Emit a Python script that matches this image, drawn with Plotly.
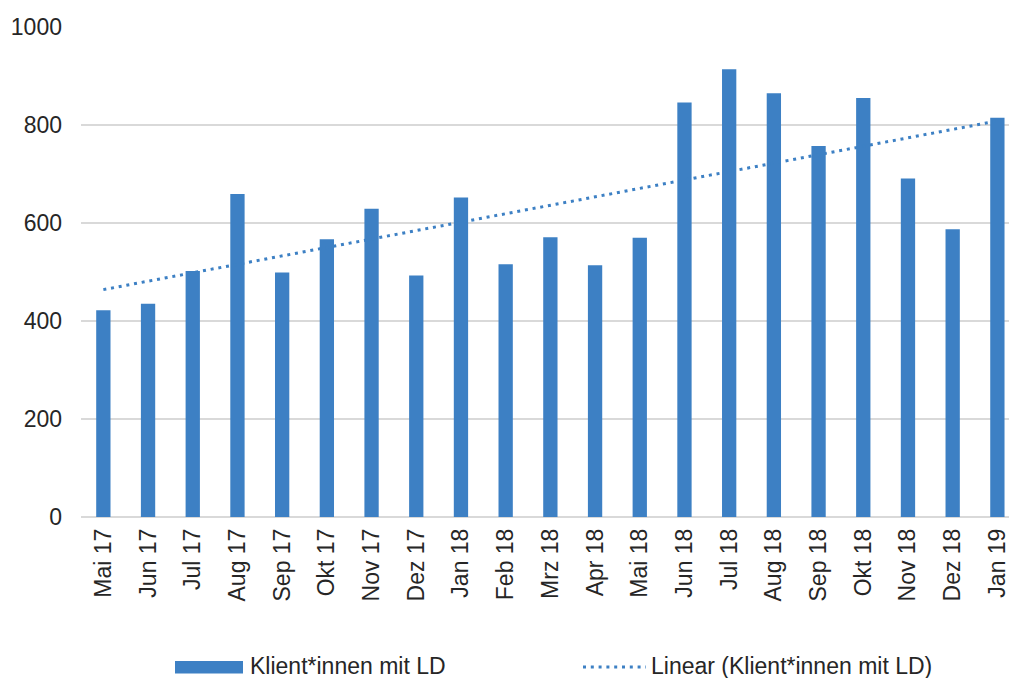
import numpy as np
import plotly.graph_objects as go

months = ["Mai 17", "Jun 17", "Jul 17", "Aug 17", "Sep 17", "Okt 17", "Nov 17",
          "Dez 17", "Jan 18", "Feb 18", "Mrz 18", "Apr 18", "Mai 18", "Jun 18",
          "Jul 18", "Aug 18", "Sep 18", "Okt 18", "Nov 18", "Dez 18", "Jan 19"]
klienten = [422, 435, 502, 659, 499, 567, 629, 493, 652, 516, 571,
            514, 570, 846, 914, 865, 757, 855, 691, 587, 815]
y_ticks = [0, 200, 400, 600, 800, 1000]

series_name = "Klient*innen mit LD"
trend_name = "Linear (Klient*innen mit LD)"

BLUE = "#3d80c4"
TEXT = "#262626"
FONT = "Liberation Sans, Arial, sans-serif"

# Excel-style linear trendline (least squares over category index)
idx = np.arange(len(klienten))
slope, intercept = np.polyfit(idx, klienten, 1)
trend = slope * idx + intercept

fig = go.Figure()
fig.add_trace(go.Bar(
    x=idx, y=klienten, name=series_name, width=0.32,
    marker=dict(color=BLUE, line=dict(width=0)), showlegend=False,
))
fig.add_trace(go.Scatter(
    x=idx, y=trend, name=trend_name, mode="lines",
    line=dict(color=BLUE, width=3, dash="3px,4.8px"), showlegend=False,
))

W, H = 1009, 678
# plot area in window pixels: x 81..1009, y 27..517
L, R, T, B = 81, 0, 27, 678 - 517
pw, ph = W - L - R, H - T - B


def px(xw):
    return (xw - L) / pw


def py(yw):
    return (517 - yw) / ph


# custom legend
leg_y = 666
fig.add_shape(type="rect", xref="paper", yref="paper",
              x0=px(175), x1=px(243), y0=py(673.5), y1=py(661),
              fillcolor=BLUE, line=dict(width=0))
fig.add_annotation(xref="paper", yref="paper", x=px(248), y=py(leg_y),
                   text=series_name, showarrow=False, xanchor="left", yanchor="middle",
                   font=dict(family=FONT, size=23, color=TEXT))
fig.add_shape(type="line", xref="paper", yref="paper",
              x0=px(583), x1=px(646), y0=py(667), y1=py(667),
              line=dict(color=BLUE, width=3, dash="3px,4.8px"))
fig.add_annotation(xref="paper", yref="paper", x=px(649), y=py(leg_y),
                   text=trend_name, showarrow=False, xanchor="left", yanchor="middle",
                   font=dict(family=FONT, size=23, color=TEXT))

fig.update_layout(
    width=W, height=H,
    margin=dict(l=L, r=R, t=T, b=B),
    paper_bgcolor="white", plot_bgcolor="white",
    font=dict(family=FONT, size=23, color=TEXT),
    showlegend=False,
)
fig.update_xaxes(
    tickmode="array", tickvals=idx, ticktext=months,
    tickangle=-90, range=[-0.5, 20.26],
    showgrid=False, zeroline=False, showline=False,
    ticks="", ticklabelstandoff=6, ticklabeloverflow="allow",
    tickfont=dict(family=FONT, size=23, color=TEXT),
)
fig.update_yaxes(
    range=[0, 1000], tickmode="array", tickvals=y_ticks,
    showgrid=True, gridcolor="#d9d9d9", gridwidth=1.5,
    zeroline=True, zerolinecolor="#d9d9d9", zerolinewidth=1.5,
    showline=False, ticks="", ticklabelstandoff=18,
    tickfont=dict(family=FONT, size=23, color=TEXT),
)

fig.write_html(
    "out.html",
    config={"displayModeBar": False},
    post_script="document.body.style.margin='0';document.body.style.overflow='hidden';",
)
